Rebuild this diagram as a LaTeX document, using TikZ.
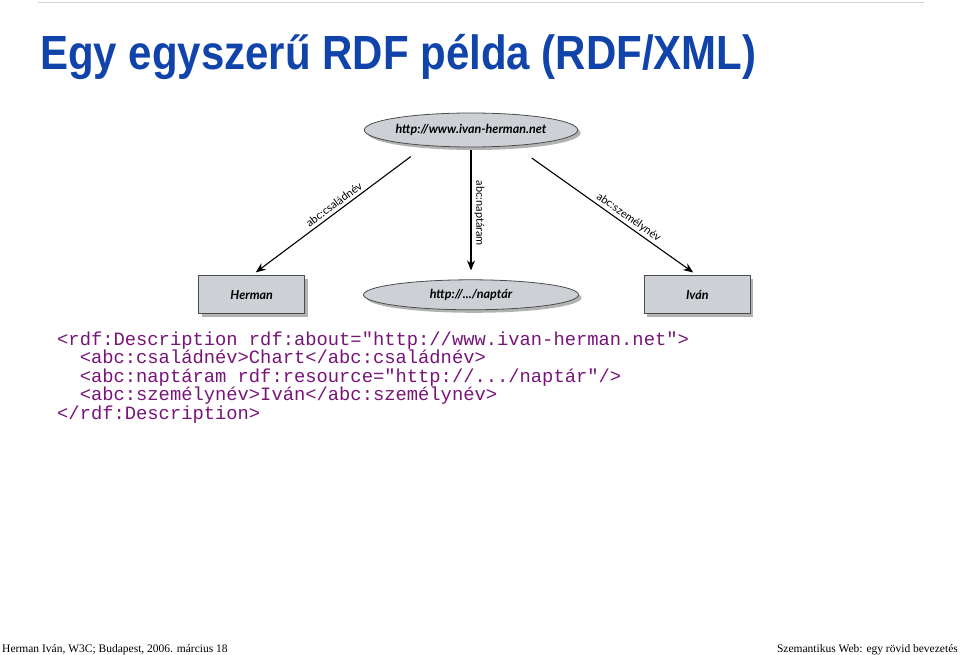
\documentclass[tikz,border=0pt]{standalone}
\usepackage{fontspec}
\setmainfont{Liberation Serif}
\setmonofont{Liberation Mono}
\newfontfamily\titlefont[FakeStretch=0.875]{Liberation Sans}
\newfontfamily\nodefont{Lato}
\usetikzlibrary{arrows.meta,positioning,shapes.geometric,shadows}

\definecolor{titleblue}{RGB}{17,68,170}
\definecolor{codepurple}{RGB}{120,20,120}
\definecolor{nodegray}{RGB}{205,208,213}

\begin{document}
\begin{tikzpicture}[x=1pt, y=1pt,
node distance=132pt and 58pt,
res/.style={ellipse, draw=black!70, line width=0.8pt, fill=nodegray, inner sep=0pt, font={\nodefont\bfseries\itshape\fontsize{12.5}{14}\selectfont}, drop shadow={shadow xshift=3pt, shadow yshift=-3pt, fill=black!60, opacity=0.5}},
lit/.style={rectangle, draw=black!70, line width=0.8pt, fill=nodegray, inner sep=0pt, minimum width=106pt, minimum height=38pt, font={\nodefont\bfseries\itshape\fontsize{12.5}{14}\selectfont}, drop shadow={shadow xshift=3pt, shadow yshift=-3pt, fill=black!60, opacity=0.5}},
arrow/.style={-{Stealth[length=10pt, width=8pt]}, line width=1.1pt},
lbl/.style={font={\nodefont\fontsize{11}{13}\selectfont}, inner sep=3pt}
]
\useasboundingbox (0,0) rectangle (960,-655);
\draw[black!18, line width=0.8pt] (38,-2) -- (924,-2);
\node[anchor=base west, inner sep=0pt, text=titleblue, font={\titlefont\bfseries\fontsize{48}{52}\selectfont}] (title) at (40,-70) {Egy egyszerű RDF példa (RDF/XML)};

\node[res, minimum width=208pt, minimum height=34pt] (site) at (471,-130) {http://www.ivan-herman.net};
\node[res, minimum width=215pt, minimum height=30pt, below=132pt of site] (cal) {http://.../naptár};
\node[lit, left=58pt of cal] (herman) {Herman};
\node[lit, right=65pt of cal] (ivan) {Iván};
\draw[arrow, shorten <=18pt, shorten >=5pt] (site.199) -- (herman.north) node[lbl, midway, sloped, above] {abc:családnév};
\draw[arrow, shorten <=3pt, shorten >=9pt] (site.south) -- (cal.north) node[lbl, midway, rotate=-90, anchor=south] {abc:naptáram};
\draw[arrow, shorten <=21pt, shorten >=5pt] (site.-20) -- (ivan.north) node[lbl, pos=0.6, sloped, above, inner sep=2pt] {abc:személynév};

\node[anchor=base west, align=left, inner sep=0pt, text=codepurple, font={\ttfamily\fontsize{18.8}{18.5}\selectfont}] (xml) at (57,-419) {<rdf:Description rdf:about="http://www.ivan-herman.net">\\
\hspace*{1.2em}<abc:családnév>Chart</abc:családnév>\\
\hspace*{1.2em}<abc:naptáram rdf:resource="http://.../naptár"/>\\
\hspace*{1.2em}<abc:személynév>Iván</abc:személynév>\\
</rdf:Description>};

\node[anchor=base west, inner sep=0pt, font={\fontsize{11.5}{13}\selectfont}] (footl) at (2,-652) {Herman Iván, W3C; Budapest, 2006. március 18};
\node[anchor=base east, inner sep=0pt, font={\fontsize{11.5}{13}\selectfont}] (footr) at (958,-652) {Szemantikus Web: egy rövid bevezetés};
\end{tikzpicture}
\end{document}
